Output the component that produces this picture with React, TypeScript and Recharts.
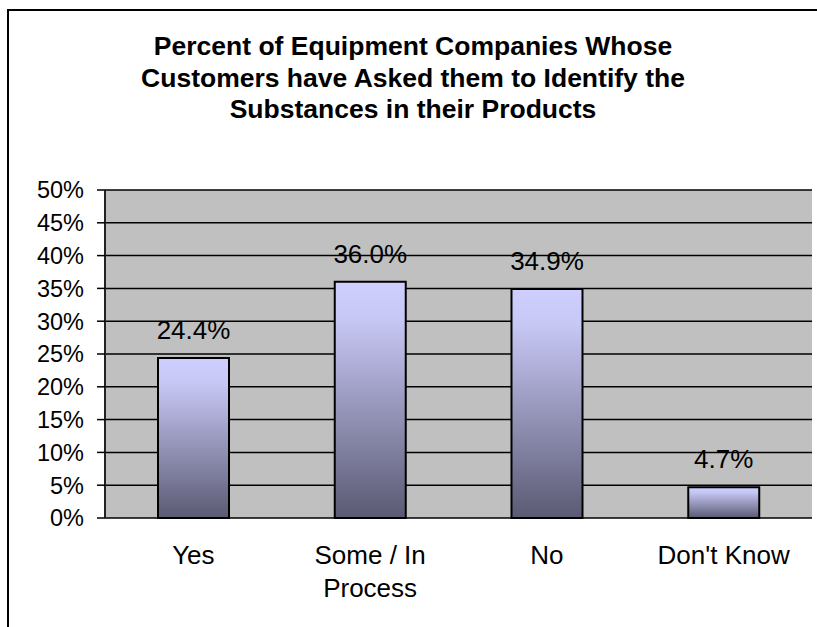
import React from "react";
import {
  BarChart,
  Bar,
  XAxis,
  YAxis,
  CartesianGrid,
  LabelList,
} from "recharts";

const categories = ["Yes", "Some / In Process", "No", "Don't Know"];
const percentValues = [24.4, 36.0, 34.9, 4.7];
const yTicks = [0, 5, 10, 15, 20, 25, 30, 35, 40, 45, 50];
const boundaryTicks = [0, 1, 2, 3, 4];
const titleLines = [
  "Percent of Equipment Companies Whose",
  "Customers have Asked them to Identify the",
  "Substances in their Products",
];

const data = categories.map((c, i) => ({ category: c, value: percentValues[i] }));

const FONT = "'Liberation Sans', Arial, sans-serif";

function wrapLabel(text: string, maxChars: number): string[] {
  const words = text.split(" ");
  const lines: string[] = [];
  let cur = "";
  for (const w of words) {
    const next = cur ? cur + " " + w : w;
    if (next.length > maxChars && cur) {
      lines.push(cur);
      cur = w;
    } else {
      cur = next;
    }
  }
  if (cur) lines.push(cur);
  return lines;
}

const CategoryTick = (props: any) => {
  const { x, y, payload } = props;
  const lines = wrapLabel(String(payload.value), 10);
  return (
    <text
      x={x}
      y={y}
      textAnchor="middle"
      fill="#000"
      fontSize={26}
      fontFamily={FONT}
    >
      {lines.map((l, i) => (
        <tspan key={i} x={x} dy={i === 0 ? "0.71em" : 33}>
          {l}
        </tspan>
      ))}
    </text>
  );
};

export default function App() {
  return (
    <div
      style={{
        position: "fixed",
        left: 0,
        top: 0,
        width: 817,
        height: 627,
        overflow: "hidden",
        background: "#fff",
      }}
    >
      <div
        style={{
          position: "absolute",
          left: 7,
          top: 9,
          width: 900,
          height: 700,
          border: "2px solid #000",
          boxSizing: "border-box",
        }}
      />
      <div
        style={{
          position: "absolute",
          left: 0,
          top: 31,
          width: 826,
          textAlign: "center",
          fontFamily: FONT,
          fontWeight: "bold",
          fontSize: 26.5,
          lineHeight: "31.5px",
          color: "#000",
        }}
      >
        {titleLines.map((l, i) => (
          <div key={i}>{l}</div>
        ))}
      </div>
      <div style={{ position: "absolute", left: 0, top: 0 }}>
        <BarChart
          width={817}
          height={627}
          data={data}
          margin={{ top: 190, right: 5, bottom: 29, left: 0 }}
        >
          <defs>
            <linearGradient id="barGrad" x1="0" y1="0" x2="0" y2="1">
              <stop offset="0" stopColor="#CFCFFF" />
              <stop offset="0.15" stopColor="#C8C8F6" />
              <stop offset="1" stopColor="#5A5A73" />
            </linearGradient>
          </defs>
          <CartesianGrid
            xAxisId="cat"
            vertical={false}
            fill="#C0C0C0"
            fillOpacity={1}
            stroke="#000"
            strokeWidth={1.5}
          />
          <XAxis
            xAxisId="bounds"
            type="number"
            domain={[0, 4]}
            ticks={boundaryTicks}
            tick={false}
            height={0}
            tickSize={8}
            axisLine={{ stroke: "#000", strokeWidth: 1.5 }}
            tickLine={{ stroke: "#000", strokeWidth: 1.5 }}
          />
          <XAxis
            xAxisId="cat"
            dataKey="category"
            height={80}
            axisLine={false}
            tickLine={false}
            tickSize={0}
            tickMargin={28}
            interval={0}
            tick={<CategoryTick />}
          />
          <YAxis
            width={105}
            domain={[0, 50]}
            ticks={yTicks}
            interval={0}
            tickFormatter={(v: number) => `${v}%`}
            tickSize={8}
            tickMargin={13}
            axisLine={{ stroke: "#222", strokeWidth: 2 }}
            tickLine={{ stroke: "#000", strokeWidth: 1.5 }}
            tick={{ fill: "#000", fontSize: 23.5, fontFamily: FONT }}
          />
          <Bar
            xAxisId="cat"
            dataKey="value"
            barSize={71}
            fill="url(#barGrad)"
            stroke="#000"
            strokeWidth={2}
            isAnimationActive={false}
          >
            <LabelList
              dataKey="value"
              position="top"
              offset={19}
              formatter={(v: any) => `${Number(v).toFixed(1)}%`}
              fill="#000"
              fontSize={26}
              fontFamily={FONT}
            />
          </Bar>
        </BarChart>
      </div>
    </div>
  );
}
